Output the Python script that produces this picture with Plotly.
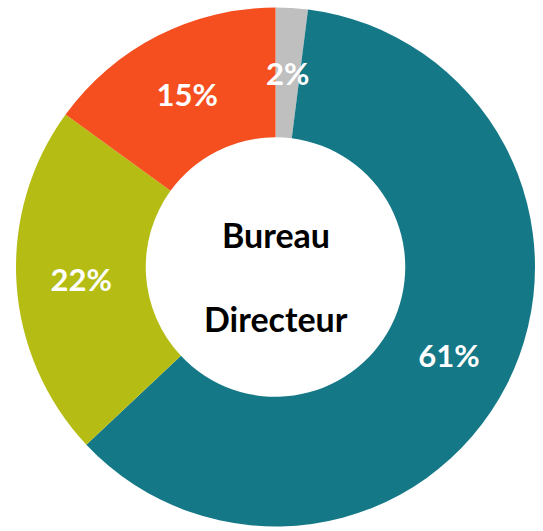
import math
import plotly.graph_objects as go

categories = ["Gris", "Bleu", "Vert", "Orange"]
values = [2, 61, 22, 15]
colors = ["#BFBFBF", "#157887", "#B5BD14", "#F64F1F"]
center_lines = ["Bureau", "Directeur"]

W, H = 543, 531
M = dict(l=16, r=8, t=5, b=2)
HOLE = 0.5
FONT = "Lato"

# the thin first slice: its label sits mid-ring, computed from the data
total = sum(values)
textpos = ["none"] + ["inside"] * (len(values) - 1)

fig = go.Figure(go.Pie(
    labels=categories,
    values=values,
    hole=HOLE,
    sort=False,
    direction="clockwise",
    rotation=0,
    marker=dict(colors=colors, line=dict(width=0)),
    texttemplate="%{percent:.0%}",
    textposition=textpos,
    insidetextorientation="horizontal",
    textfont=dict(family=FONT, size=31, color="white", weight="bold"),
    showlegend=False,
    hoverinfo="label+percent",
))

# label position for the first slice derived from its value
pw = W - M["l"] - M["r"]
ph = H - M["t"] - M["b"]
R = min(pw, ph) / 2
ang = 2 * math.pi * (values[0] / 2) / total
rr = R * (1 + HOLE) / 2
fig.add_annotation(
    x=0.5 + rr * math.sin(ang) / pw, y=0.5 + rr * math.cos(ang) / ph,
    xref="paper", yref="paper", showarrow=False,
    xanchor="center", yanchor="middle",
    text="<b>%d%%</b>" % round(100 * values[0] / total),
    font=dict(family=FONT, size=31, color="white"),
)

fig.add_annotation(x=0.5, y=0.5, xref="paper", yref="paper", yshift=33,
                   xanchor="center", yanchor="middle",
                   text="<b>%s</b>" % center_lines[0], showarrow=False,
                   font=dict(family=FONT, size=34, color="black"))
fig.add_annotation(x=0.5, y=0.5, xref="paper", yref="paper", yshift=-51,
                   xanchor="center", yanchor="middle",
                   text="<b>%s</b>" % center_lines[1], showarrow=False,
                   font=dict(family=FONT, size=34, color="black"))

fig.update_layout(
    width=W, height=H,
    margin=M,
    paper_bgcolor="white",
    plot_bgcolor="white",
    uniformtext=dict(minsize=31, mode="show"),
)

fig.write_html("out.html", config={"displayModeBar": False},
               post_script="document.body.style.margin='0px';")
